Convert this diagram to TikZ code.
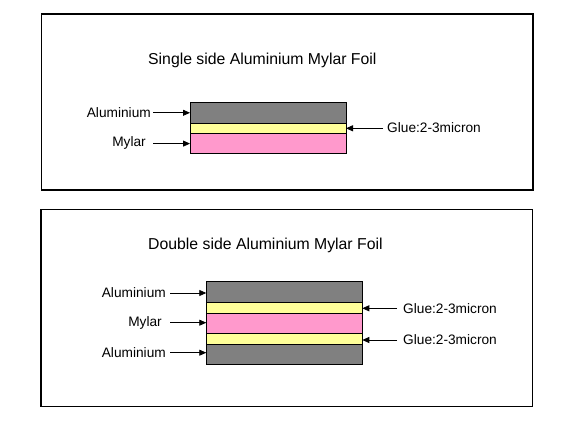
\documentclass[tikz,border=0pt]{standalone}
\usepackage{fontspec}
\setmainfont{Liberation Sans}
\usetikzlibrary{arrows.meta}
\definecolor{algray}{HTML}{808080}
\definecolor{glueyellow}{HTML}{FFFF99}
\definecolor{mylarpink}{HTML}{FF99CC}
\tikzset{
  frame/.style={draw=black, line width=1.2pt, fill=white},
  layer/.style={draw=black, line width=0.9pt, minimum width=156pt, inner sep=0pt, outer sep=0pt},
  lbl/.style={inner sep=0pt, font=\fontsize{13.7}{16}\selectfont},
  ttl/.style={inner sep=0pt, font=\fontsize{15.8}{18}\selectfont},
  pointer/.style={line width=0.8pt, -{Triangle[length=7pt,width=6pt]}}
}
\begin{document}
\begin{tikzpicture}[x=1pt,y=-1pt]
\useasboundingbox (0,0) rectangle (579,425);
\fill[white] (0,0) rectangle (579,425);
% frames
\draw[frame] (41.5,14) rectangle (533,190);
\draw[frame] (41,209.7) rectangle (532.5,406.7);
% ---------- single side ----------
\node[ttl, anchor=west] (t1) at (148,60.5) {Single side Aluminium Mylar Foil};
\node[layer, fill=algray, minimum height=21pt] (sal) at (268,112.8) {};
\node[layer, fill=glueyellow, minimum height=10pt] (sglue) at (268,128.3) {};
\node[layer, fill=mylarpink, minimum height=20.7pt] (smy) at (268,143.6) {};
\coordinate (sals) at (153,112.8);
\coordinate (smys) at (153,143.6);
\coordinate (sgls) at (383,128.3);
\node[lbl, anchor=east] (lsal) at (151,112.3) {Aluminium};
\node[lbl, anchor=east] (lsmy) at (146,143.1) {Mylar};
\node[lbl, anchor=west] (lsgl) at (387,128) {Glue:2-3micron};
\draw[pointer] (sals) -- (sal.west);
\draw[pointer] (smys) -- (smy.west);
\draw[pointer] (sgls) -- (sglue.east);
% ---------- double side ----------
\node[ttl, anchor=west] (t2) at (148,245.5) {Double side Aluminium Mylar Foil};
\node[layer, fill=algray, minimum height=20.6pt] (dal1) at (284.3,292) {};
\node[layer, fill=glueyellow, minimum height=11pt] (dgl1) at (284.3,307.8) {};
\node[layer, fill=mylarpink, minimum height=20pt] (dmy) at (284.3,323.3) {};
\node[layer, fill=glueyellow, minimum height=10.7pt] (dgl2) at (284.3,338.7) {};
\node[layer, fill=algray, minimum height=20.7pt] (dal2) at (284.3,354.3) {};
\coordinate (dal1s) at (170,293);
\coordinate (dmys) at (170,322.7);
\coordinate (dal2s) at (170,352.7);
\coordinate (dgl1s) at (397,308.3);
\coordinate (dgl2s) at (397,340);
\node[lbl, anchor=east] (ldal1) at (166,292.8) {Aluminium};
\node[lbl, anchor=east] (ldmy) at (162,322.5) {Mylar};
\node[lbl, anchor=east] (ldal2) at (166,352.5) {Aluminium};
\node[lbl, anchor=west] (ldgl1) at (403,308.3) {Glue:2-3micron};
\node[lbl, anchor=west] (ldgl2) at (403,340) {Glue:2-3micron};
\draw[pointer] (dal1s) -- (dal1s -| dal1.west);
\draw[pointer] (dmys) -- (dmys -| dmy.west);
\draw[pointer] (dal2s) -- (dal2s -| dal2.west);
\draw[pointer] (dgl1s) -- (dgl1s -| dgl1.east);
\draw[pointer] (dgl2s) -- (dgl2s -| dgl2.east);
\end{tikzpicture}
\end{document}
